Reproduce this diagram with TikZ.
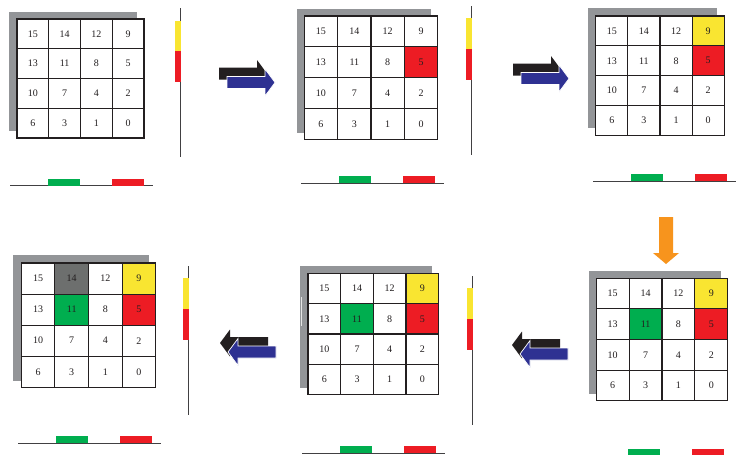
\documentclass[tikz,border=0pt]{standalone}
\usepackage{fontspec}
\setmainfont{Liberation Serif}
\definecolor{cgray}{HTML}{939598}
\definecolor{cyellow}{HTML}{F9E531}
\definecolor{cred}{HTML}{ED1C24}
\definecolor{cgreen}{HTML}{00AE4F}
\definecolor{cdark}{HTML}{6D6F6E}
\definecolor{cblack}{HTML}{231F20}
\definecolor{cblue}{HTML}{2E3192}
\definecolor{corange}{HTML}{F7941D}
\definecolor{cline}{HTML}{414042}
\tikzset{
  cell/.style={draw=cblack, line width=1.1pt, inner sep=0pt, font=\fontsize{10}{12}\selectfont, text=cblack},
  shadowbox/.style={fill=cgray},
  axisline/.style={draw=cline, line width=1pt},
  blackarrow/.style={fill=cblack},
  bluearrow/.style={fill=cblue, draw=white, line width=0.7pt},
}
% cell fills per panel
\expandafter\def\csname cfP2-5\endcsname{cred}
\expandafter\def\csname cfP3-9\endcsname{cyellow}
\expandafter\def\csname cfP3-5\endcsname{cred}
\expandafter\def\csname cfP4-9\endcsname{cyellow}
\expandafter\def\csname cfP4-5\endcsname{cred}
\expandafter\def\csname cfP4-11\endcsname{cgreen}
\expandafter\def\csname cfP5-9\endcsname{cyellow}
\expandafter\def\csname cfP5-5\endcsname{cred}
\expandafter\def\csname cfP5-11\endcsname{cgreen}
\expandafter\def\csname cfP6-9\endcsname{cyellow}
\expandafter\def\csname cfP6-5\endcsname{cred}
\expandafter\def\csname cfP6-11\endcsname{cgreen}
\expandafter\def\csname cfP6-14\endcsname{cdark}
\newcommand\cellgrid[5]{%
  \pgfmathsetmacro\cw{(#4-#2)/4}%
  \pgfmathsetmacro\ch{(#5-#3)/4}%
  \foreach \n [count=\i from 0] in {15,14,12,9,13,11,8,5,10,7,4,2,6,3,1,0}{%
    \pgfmathtruncatemacro\cc{mod(\i,4)}%
    \pgfmathtruncatemacro\rr{div(\i,4)}%
    \def\cellcol{white}%
    \ifcsname cf#1-\n\endcsname\edef\cellcol{\csname cf#1-\n\endcsname}\fi
    \node[cell, fill=\cellcol, minimum width=\cw pt, minimum height=\ch pt]
      (#1-\n) at ({#2+(\cc+0.5)*\cw},{#3+(\rr+0.5)*\ch}) {\n};
  }%
}
\newcommand\arrowshape{(0,-6) -- (38,-6) -- (38,-13.5) -- (48,0) -- (38,13.5) -- (38,6) -- (0,6) -- cycle}
% #1,#2 blue tail centre, #3 direction (1 right, -1 left)
\newcommand\duoarrow[3]{%
  \begin{scope}[shift={(#1-8,#2-9)}, xscale=#3]
    \fill[blackarrow] \arrowshape;
  \end{scope}
  \begin{scope}[shift={(#1,#2)}, xscale=#3]
    \filldraw[bluearrow] \arrowshape;
  \end{scope}}
\begin{document}
\begin{tikzpicture}[x=1pt, y=-1pt]
\useasboundingbox[fill=white] (0,0) rectangle (752,455);

% ---------- Panel 1 ----------
\fill[shadowbox] (9,12) rectangle (137,131);
\cellgrid{P1}{17}{19}{144}{138}
\draw[axisline] (180.7,8) -- (180.7,157);
\fill[cyellow] (175,21) rectangle (181,51);
\fill[cred] (175,51) rectangle (181,82);
\draw[axisline] (10,185.7) -- (153,185.7);
\fill[cgreen] (48,179) rectangle (80,185.5);
\fill[cred] (112,179) rectangle (144,185.5);

% ---------- Panel 2 ----------
\fill[shadowbox] (297,9) rectangle (431,133);
\cellgrid{P2}{304.3}{16}{437.7}{139.7}
\draw[axisline] (471.7,6) -- (471.7,155);
\fill[cyellow] (466,18) rectangle (472,49);
\fill[cred] (466,49) rectangle (472,80);
\draw[axisline] (301,183) -- (444,183);
\fill[cgreen] (339,176) rectangle (371,182.8);
\fill[cred] (403,176) rectangle (435,182.8);

% ---------- Panel 3 ----------
\fill[shadowbox] (588,8) rectangle (717,128);
\cellgrid{P3}{595.7}{16}{724.3}{135.3}
\draw[axisline] (593,181) -- (736,181);
\fill[cgreen] (631,174) rectangle (663,180.8);
\fill[cred] (695,174) rectangle (727,180.8);

% ---------- Panel 4 ----------
\fill[shadowbox] (588.7,271) rectangle (721,394);
\cellgrid{P4}{596.3}{278.3}{727.7}{400.7}
\fill[cgreen] (628,449) rectangle (660,455);
\fill[cred] (692,449) rectangle (724,455);

% ---------- Panel 5 ----------
\fill[shadowbox] (300.3,266) rectangle (432,388);
\draw[white!80!gray, line width=0.8pt] (301.8,297) -- (301.8,326);
\cellgrid{P5}{308}{273.3}{438.7}{394.7}
\draw[axisline] (472.7,276) -- (472.7,425);
\fill[cyellow] (467,288) rectangle (473,319);
\fill[cred] (467,319) rectangle (473,350);
\draw[axisline] (302,453) -- (445,453);
\fill[cgreen] (340,446) rectangle (372,452.8);
\fill[cred] (404,446) rectangle (436,452.8);

% ---------- Panel 6 ----------
\fill[shadowbox] (13.3,255.3) rectangle (149,381);
\cellgrid{P6}{21.3}{263}{155.7}{387.3}
\draw[axisline] (188.3,266) -- (188.3,415);
\fill[cyellow] (183,278) rectangle (189,309);
\fill[cred] (183,309) rectangle (189,340);
\draw[axisline] (18,443.3) -- (161,443.3);
\fill[cgreen] (56,436) rectangle (88,443.1);
\fill[cred] (120,436) rectangle (152,443.1);

% ---------- Arrows ----------
\duoarrow{227}{82.5}{1}
\duoarrow{521}{78.5}{1}
\duoarrow{276}{352}{-1}
\duoarrow{568}{354}{-1}
\fill[corange] (659,217) -- (673,217) -- (673,253) -- (679,253) -- (666,264) -- (653,253) -- (659,253) -- cycle;
\end{tikzpicture}
\end{document}
